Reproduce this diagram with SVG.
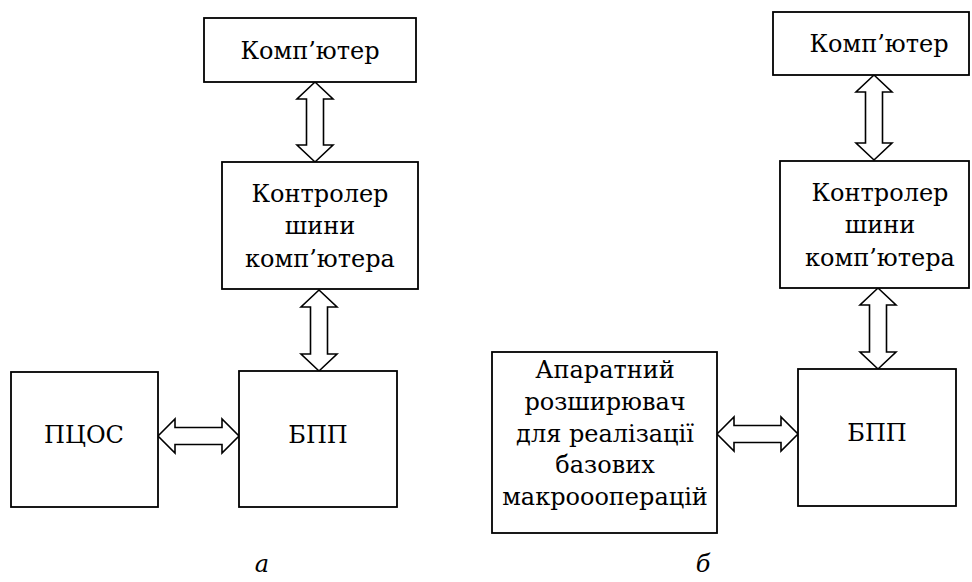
<svg xmlns="http://www.w3.org/2000/svg" width="972" height="582" viewBox="0 0 972 582">
<style>
.box{fill:#fff;stroke:#000;stroke-width:1.8}
.arr{fill:#fff;stroke:#000;stroke-width:1.6;stroke-linejoin:miter}
.t{font-family:'DejaVu Serif',serif;font-size:24px;fill:#000;text-anchor:middle}
.lbl{font-style:italic}
</style>
<rect width="972" height="582" fill="#fff"/>
<g id="connectors">
<polygon class="arr" points="315,82 333,99 323.5,99 323.5,145 333,145 315,162 297,145 306.5,145 306.5,99 297,99"/>
<polygon class="arr" points="319,290 337,307 327.5,307 327.5,354 337,354 319,371 301,354 310.5,354 310.5,307 301,307"/>
<polygon class="arr" points="158,436 175,419 175,427.5 222,427.5 222,419 239,436 222,453 222,444.5 175,444.5 175,453"/>
<polygon class="arr" points="874,75 892,92 882.5,92 882.5,143 892,143 874,160 856,143 865.5,143 865.5,92 856,92"/>
<polygon class="arr" points="878,288 896,305 886.5,305 886.5,352 896,352 878,369 860,352 869.5,352 869.5,305 860,305"/>
<polygon class="arr" points="717,434 734,417 734,425.5 781,425.5 781,417 798,434 781,451 781,442.5 734,442.5 734,451"/>
</g>
<g id="a-computer">
<rect class="box" x="204" y="18" width="212" height="64"/>
<text class="t" x="310" y="59">Комп’ютер</text>
</g>
<g id="a-controller">
<rect class="box" x="222" y="162" width="196" height="127"/>
<text class="t" x="320" y="202">Контролер</text>
<text class="t" x="320" y="234">шини</text>
<text class="t" x="320" y="267">комп’ютера</text>
</g>
<g id="a-bpp">
<rect class="box" x="239" y="371" width="158" height="136"/>
<text class="t" x="318" y="443">БПП</text>
</g>
<g id="a-pcos">
<rect class="box" x="11" y="372" width="147" height="135"/>
<text class="t" x="84" y="443">ПЦОС</text>
</g>
<g id="b-computer">
<rect class="box" x="773" y="12" width="196" height="63"/>
<text class="t" x="879" y="52">Комп’ютер</text>
</g>
<g id="b-controller">
<rect class="box" x="780" y="161" width="189" height="127"/>
<text class="t" x="880" y="201">Контролер</text>
<text class="t" x="880" y="233">шини</text>
<text class="t" x="880" y="266">комп’ютера</text>
</g>
<g id="b-bpp">
<rect class="box" x="798" y="369" width="158" height="137"/>
<text class="t" x="877" y="441">БПП</text>
</g>
<g id="b-expander">
<rect class="box" x="492" y="352" width="225" height="181"/>
<text class="t" x="605" y="378">Апаратний</text>
<text class="t" x="605" y="410">розширювач</text>
<text class="t" x="605" y="442">для реалізації</text>
<text class="t" x="605" y="473">базових</text>
<text class="t" x="605" y="505">макроооперацій</text>
</g>
<text class="t lbl" x="262" y="572">а</text>
<text class="t lbl" x="703" y="572">б</text>
</svg>
